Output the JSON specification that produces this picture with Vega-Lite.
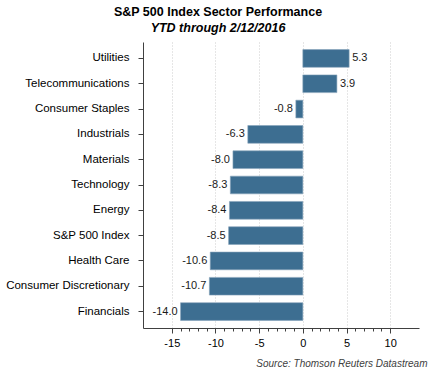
{
  "$schema": "https://vega.github.io/schema/vega-lite/v6.json",
  "width": 276,
  "height": 286,
  "autosize": {"type": "none"},
  "padding": {"left": 143, "top": 42, "right": 17, "bottom": 44},
  "background": "#ffffff",
  "title": {
    "text": "S&P 500 Index Sector Performance",
    "subtitle": "YTD through 2/12/2016",
    "anchor": "middle",
    "frame": "group",
    "dx": -63,
    "offset": 8,
    "font": "Liberation Sans",
    "fontSize": 12.5,
    "fontWeight": "bold",
    "color": "#000000",
    "subtitleFont": "Liberation Sans",
    "subtitleFontSize": 12.5,
    "subtitleFontStyle": "italic",
    "subtitleFontWeight": "bold",
    "subtitleColor": "#000000",
    "subtitlePadding": 3
  },
  "data": {
    "values": [
      {"sector": "Utilities", "value": 5.3},
      {"sector": "Telecommunications", "value": 3.9},
      {"sector": "Consumer Staples", "value": -0.8},
      {"sector": "Industrials", "value": -6.3},
      {"sector": "Materials", "value": -8.0},
      {"sector": "Technology", "value": -8.3},
      {"sector": "Energy", "value": -8.4},
      {"sector": "S&P 500 Index", "value": -8.5},
      {"sector": "Health Care", "value": -10.6},
      {"sector": "Consumer Discretionary", "value": -10.7},
      {"sector": "Financials", "value": -14.0}
    ]
  },
  "encoding": {
    "y": {
      "field": "sector",
      "type": "nominal",
      "sort": null,
      "scale": {"paddingInner": 0.3, "paddingOuter": 0.3},
      "axis": {
        "title": null,
        "domainColor": "#404040",
        "tickColor": "#404040",
        "tickSize": 5,
        "labelPadding": 9,
        "labelFont": "Liberation Sans",
        "labelFontSize": 11.5,
        "labelColor": "#000000",
        "grid": false
      }
    }
  },
  "layer": [
    {
      "mark": {"type": "bar", "color": "#3D6E91", "stroke": "#86A3BA", "strokeWidth": 0.6},
      "encoding": {
        "x": {
          "field": "value",
          "type": "quantitative",
          "scale": {"domain": [-18.3, 13.3], "nice": false, "zero": false},
          "axis": {
            "values": [-15, -10, -5, 0, 5, 10],
            "format": "d",
            "domainColor": "#404040",
            "tickColor": "#404040",
            "tickSize": 5,
            "labelPadding": 4,
            "labelFont": "Liberation Sans",
            "labelFontSize": 11,
            "labelColor": "#000000",
            "grid": true,
            "gridColor": "#cccccc",
            "gridDash": [1, 2],
            "title": "Source: Thomson Reuters Datastream",
            "titleFont": "Liberation Sans",
            "titleFontSize": 10,
            "titleFontStyle": "italic",
            "titleFontWeight": "normal",
            "titleColor": "#404040",
            "titleAnchor": "end",
            "titleAlign": "right",
            "titleBaseline": "alphabetic",
            "titleX": 284,
            "titleY": 38
          }
        }
      }
    },
    {
      "transform": [{"filter": "datum.value >= 0"}],
      "mark": {"type": "text", "align": "left", "baseline": "middle", "dx": 3, "font": "Liberation Sans", "fontSize": 11, "color": "#1a1a1a"},
      "encoding": {
        "x": {"field": "value", "type": "quantitative", "scale": {"domain": [-18.3, 13.3], "nice": false, "zero": false}, "axis": null},
        "text": {"field": "value", "type": "quantitative", "format": ".1f"}
      }
    },
    {
      "transform": [{"filter": "datum.value < 0"}],
      "mark": {"type": "text", "align": "right", "baseline": "middle", "dx": -3, "font": "Liberation Sans", "fontSize": 11, "color": "#1a1a1a"},
      "encoding": {
        "x": {"field": "value", "type": "quantitative", "scale": {"domain": [-18.3, 13.3], "nice": false, "zero": false}, "axis": null},
        "text": {"field": "value", "type": "quantitative", "format": ".1f"}
      }
    },
    {
      "mark": {"type": "rule", "color": "#404040", "strokeWidth": 1},
      "encoding": {
        "x": {
          "datum": 0,
          "type": "quantitative",
          "scale": {"domain": [-18.3, 13.3], "nice": false, "zero": false},
          "axis": {
            "orient": "bottom",
            "values": [-14, -13, -12, -11, -9, -8, -7, -6, -4, -3, -2, -1, 1, 2, 3, 4, 6, 7, 8, 9],
            "labels": false,
            "domain": false,
            "grid": false,
            "ticks": true,
            "tickSize": 3,
            "tickColor": "#404040",
            "title": null
          }
        }
      }
    }
  ],
  "resolve": {"axis": {"x": "independent"}},
  "config": {
    "view": {"stroke": null},
    "locale": {
      "number": {
        "decimal": ".",
        "thousands": ",",
        "grouping": [3],
        "currency": ["$", ""],
        "minus": "-"
      }
    }
  }
}
